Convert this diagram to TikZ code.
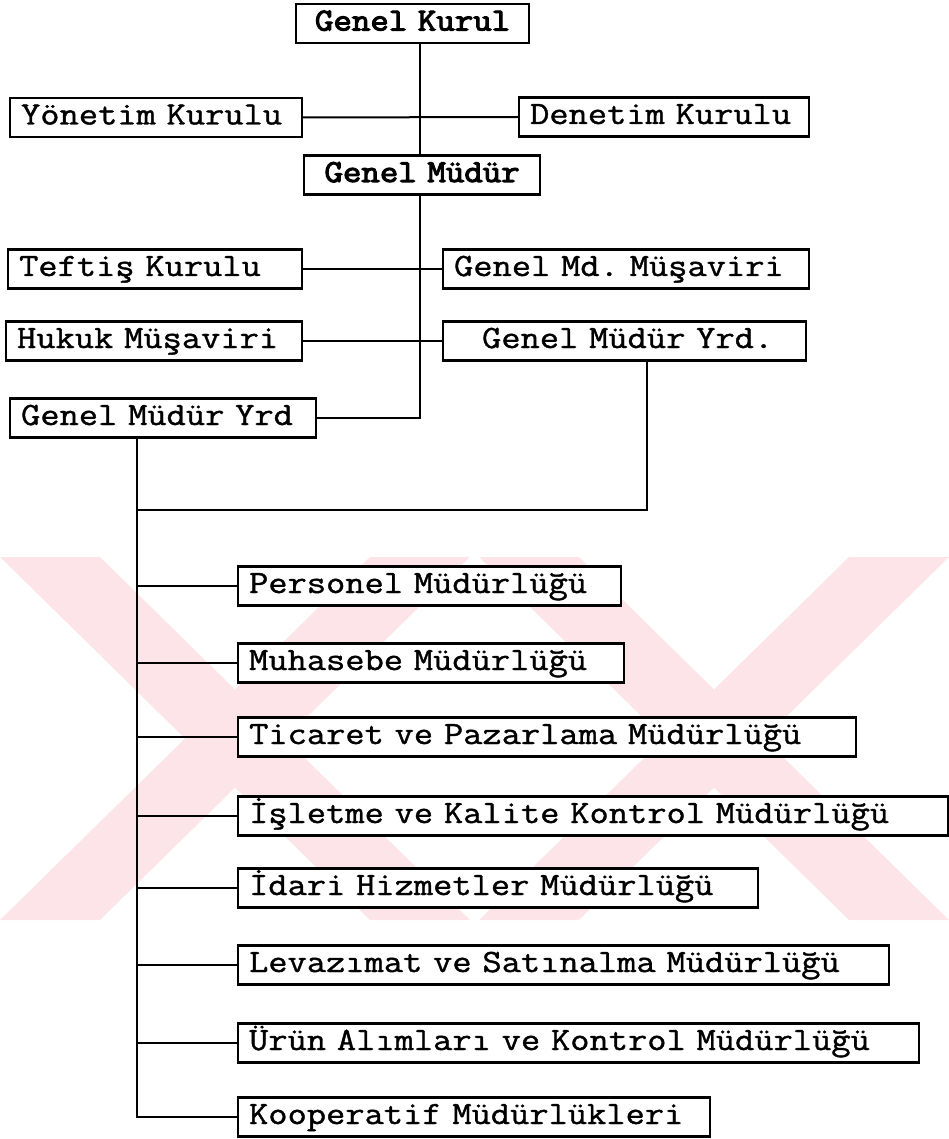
\documentclass[tikz,border=0pt]{standalone}
\usepackage{fontspec}
\newfontfamily\tw{Latin Modern Mono}[FakeStretch=1.15, FakeBold=1.2]
\newfontfamily\twb{Latin Modern Mono}[FakeStretch=1.12, FakeBold=3.5]
\newcommand\twfont{\tw\fontsize{32.5}{36}\selectfont\frenchspacing
  \fontdimen2\font=19.6pt\fontdimen3\font=0pt\fontdimen4\font=0pt}
\newcommand\twbfont{\twb\fontsize{32}{36}\selectfont\frenchspacing
  \fontdimen2\font=18.8pt\fontdimen3\font=0pt\fontdimen4\font=0pt}
\definecolor{wm}{RGB}{252,228,232}
\tikzset{
  box/.style={draw, line width=2.2pt, fill=white, anchor=west, minimum height=39pt,
    inner xsep=11pt, inner ysep=0pt, text height=21pt, text depth=7pt, align=left,
    font=\twfont},
  ttl/.style={box, align=center, font=\twbfont},
  link/.style={line width=2pt},
  wmark/.style={fill=wm, draw=none}
}
\begin{document}
\begin{tikzpicture}[x=1pt,y=-1pt]
\useasboundingbox (0,0) rectangle (949,1139);
% watermark
\fill[wmark] (0,557) -- (100,557) -- (470,920) -- (370,920) -- cycle;
\fill[wmark] (370,557) -- (470,557) -- (100,920) -- (0,920) -- cycle;
\fill[wmark] (479,557) -- (579,557) -- (949,920) -- (849,920) -- cycle;
\fill[wmark] (849,557) -- (949,557) -- (579,920) -- (479,920) -- cycle;
% coordinates
\coordinate (sp) at (420,0);
\coordinate (tk) at (137,0);
\coordinate (rj) at (647,510);
\coordinate (tr) at (137,510);
% nodes
\node[ttl, text width=211pt] (GK) at (295,23.5) {Genel Kurul};
\node[box, text width=270pt] (YK) at (9,117.5) {Yönetim Kurulu};
\node[box, text width=268pt] (DK) at (518,117) {Denetim Kurulu};
\node[ttl, text width=214pt] (GM) at (303,175) {Genel Müdür};
\node[box, text width=272pt] (TK) at (7,269) {Teftiş Kurulu};
\node[box, text width=344pt] (GMM) at (442,269) {Genel Md. Müşaviri};
\node[box, text width=274pt] (HM) at (5,341) {Hukuk Müşaviri};
\node[box, text width=341pt] (GMY2) at (442,341) {\hspace*{28pt}Genel Müdür Yrd.};
\node[box, text width=284pt] (GMY1) at (9,418) {Genel Müdür Yrd};
\node[box, text width=361pt] (PM) at (237,586) {Personel Müdürlüğü};
\node[box, text width=364pt] (MM) at (237,663) {Muhasebe Müdürlüğü};
\node[box, text width=596pt] (TPM) at (237,737) {Ticaret ve Pazarlama Müdürlüğü};
\node[box, text width=688pt] (IKM) at (237,816) {İşletme ve Kalite Kontrol Müdürlüğü};
\node[box, text width=498pt] (IHM) at (237,888) {İdari Hizmetler Müdürlüğü};
\node[box, text width=629pt] (LSM) at (237,965) {Levazımat ve Satınalma Müdürlüğü};
\node[box, text width=659pt] (UKM) at (237,1043) {Ürün Alımları ve Kontrol Müdürlüğü};
\node[box, text width=450pt] (KM) at (237,1117) {Kooperatif Müdürlükleri};
% connectors
\draw[link] (GK.south -| sp) -- (GM.north -| sp);
\draw[link] (YK.east) -- (DK.west);
\draw[link] (GM.south -| sp) |- (GMY1.east);
\draw[link] (TK.east) -- (GMM.west);
\draw[link] (HM.east) -- (GMY2.west);
\draw[link] (GMY2.south -| rj) -- (rj) -- (tr);
\draw[link] (GMY1.south -| tk) |- (KM.west);
\foreach \n in {PM,MM,TPM,IKM,IHM,LSM,UKM}
  \draw[link] (tk |- \n.west) -- (\n.west);
\end{tikzpicture}
\end{document}
